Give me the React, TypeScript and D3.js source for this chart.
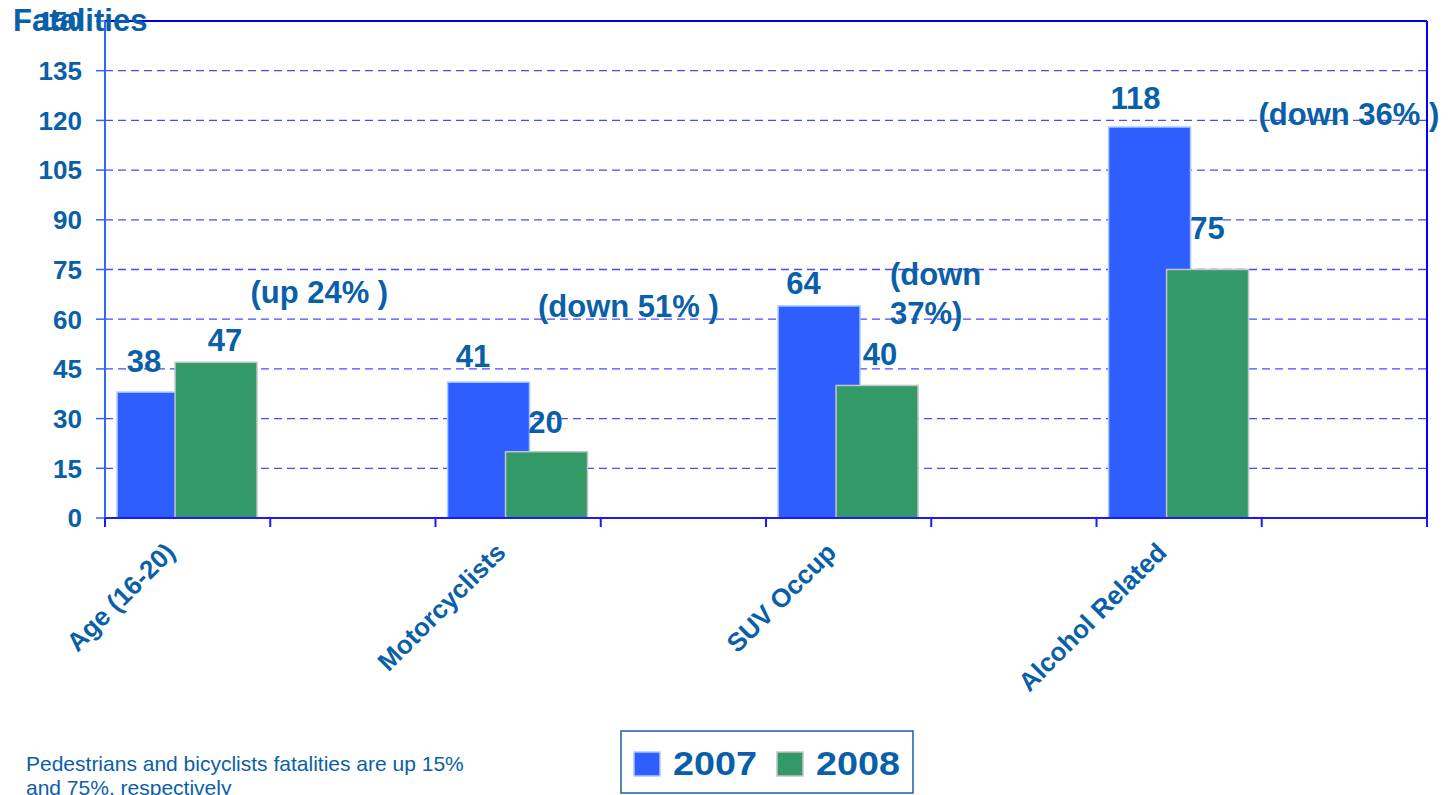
import React from "react";
import * as d3 from "d3";

// ---- data ----
const categories = ["Age (16-20)", "", "Motorcyclists", "", "SUV Occup", "", "Alcohol Related", ""];
const values2007: (number | null)[] = [38, null, 41, null, 64, null, 118, null];
const values2008: (number | null)[] = [47, null, 20, null, 40, null, 75, null];
const seriesNames = ["2007", "2008"];
const yTicks = [0, 15, 30, 45, 60, 75, 90, 105, 120, 135, 150];
// annotations: slot position (in category units), value position, lines
const annotSlot = [0.88, 2.62, 4.75, 6.98];
const annotValue = [65, 60.7, 70.3, 118.6];
const annotLines = [["(up 24% )"], ["(down 51% )"], ["(down", "37%)"], ["(down 36% )"]];
const footnote = ["Pedestrians and bicyclists fatalities are up 15%", "and 75%, respectively"];

// label nudges (px) as placed in the original
const labelDx = [
  [-14, 0, -15.5, 0, -15.5, 0, -14, 0],
  [9, 0, -1, 0, 3, 0, 0, 0],
];
const labelGap = [
  [20, 0, 15, 0, 12, 0, 18, 0],
  [11, 0, 19, 0, 20, 0, 31, 0],
];

const W = 1448;
const H = 795;
const M = { left: 105, right: 1427, top: 21, bottom: 518 };
const FONT = "'Liberation Sans', Arial, Helvetica, sans-serif";
const TXT = "#0a60a8";
const COLORS = ["#2f5eff", "#339966"];
const STROKES = ["#a9c9ff", "#c4c4c4"];

export default function App() {
  const x = d3
    .scaleBand<string>()
    .domain(categories.map((_, i) => String(i)))
    .range([M.left, M.right])
    .padding(0);
  const bw = x.bandwidth();
  const y = d3.scaleLinear().domain([0, 150]).range([M.bottom, M.top]);
  const slot = d3.scaleLinear().domain([0, categories.length]).range([M.left, M.right]);

  const barW = bw * 0.496;
  const offs = [bw * 0.073, bw * 0.424];
  const series = [values2007, values2008];

  return (
    <svg
      width={W}
      height={H}
      style={{ position: "absolute", left: 0, top: 0, overflow: "hidden", background: "#fff" }}
      fontFamily={FONT}
    >
      {/* gridlines */}
      {yTicks
        .filter((t) => t > 0 && t < 150)
        .map((t) => (
          <line
            key={"g" + t}
            x1={M.left}
            x2={M.right}
            y1={y(t)}
            y2={y(t)}
            stroke="#4a4aff"
            strokeWidth={1.3}
            strokeDasharray="8 5"
          />
        ))}
      {/* bars */}
      {series.map((vals, si) =>
        vals.map((v, i) =>
          v == null ? null : (
            <rect
              key={`b${si}-${i}`}
              x={(x(String(i)) as number) + offs[si]}
              y={y(v)}
              width={barW}
              height={y(0) - y(v)}
              fill={COLORS[si]}
              stroke={STROKES[si]}
              strokeWidth={1.5}
            />
          )
        )
      )}
      {/* plot frame: top and right */}
      <line x1={M.left} x2={M.right} y1={M.top} y2={M.top} stroke="#0000e6" strokeWidth={2} />
      <line x1={M.right} x2={M.right} y1={M.top} y2={M.bottom} stroke="#0000ff" strokeWidth={2} />
      {/* y axis */}
      <line x1={M.left} x2={M.left} y1={M.top} y2={M.bottom + 9} stroke="#3366ff" strokeWidth={2} />
      {yTicks.map((t) => (
        <g key={"yt" + t}>
          <line x1={M.left - 9} x2={M.left} y1={y(t)} y2={y(t)} stroke="#3366ff" strokeWidth={1.5} />
          <text
            x={82}
            y={y(t)}
            dy="0.36em"
            textAnchor="end"
            fontSize={26}
            fontWeight="bold"
            fill={TXT}
          >
            {t}
          </text>
        </g>
      ))}
      {/* x axis */}
      <line x1={M.left} x2={M.right} y1={M.bottom} y2={M.bottom} stroke="#1a1aff" strokeWidth={2} />
      {d3.range(categories.length + 1).map((k) => (
        <line
          key={"xt" + k}
          x1={slot(k)}
          x2={slot(k)}
          y1={M.bottom}
          y2={M.bottom + 9}
          stroke="#1a1aff"
          strokeWidth={2}
        />
      ))}
      {categories.map((c, i) =>
        c ? (
          <text
            key={"xl" + i}
            transform={`translate(${(x(String(i)) as number) + bw / 2 - 11},554) rotate(-45)`}
            textAnchor="end"
            fontSize={26}
            fontWeight="bold"
            fill={TXT}
          >
            {c}
          </text>
        ) : null
      )}
      {/* value labels */}
      {series.map((vals, si) =>
        vals.map((v, i) =>
          v == null ? null : (
            <text
              key={`l${si}-${i}`}
              x={(x(String(i)) as number) + offs[si] + barW / 2 + labelDx[si][i]}
              y={y(v) - labelGap[si][i]}
              textAnchor="middle"
              fontSize={31}
              fontWeight="bold"
              fill={TXT}
            >
              {v}
            </text>
          )
        )
      )}
      {/* annotations */}
      {annotLines.map((lines, k) => (
        <text
          key={"an" + k}
          x={slot(annotSlot[k])}
          y={y(annotValue[k])}
          fontSize={31}
          fontWeight="bold"
          fill={TXT}
        >
          {lines.map((ln, j) => (
            <tspan key={j} x={slot(annotSlot[k])} dy={j === 0 ? 0 : 39}>
              {ln}
            </tspan>
          ))}
        </text>
      ))}
      {/* title */}
      <text x={13} y={31} fontSize={31} fontWeight="bold" fill={TXT}>
        Fatalities
      </text>
      {/* legend */}
      <g>
        <rect x={621} y={731} width={292} height={62} fill="#fff" stroke="#1a5fa8" strokeWidth={1.5} />
        {seriesNames.map((s, k) => (
          <g key={"lg" + s} transform={`translate(${634 + k * 143},0)`}>
            <rect x={0} y={752} width={26} height={24} fill={COLORS[k]} stroke={STROKES[k]} strokeWidth={1.5} />
            <text
              x={39}
              y={775}
              fontSize={33}
              fontWeight="bold"
              fill={TXT}
              textLength={84}
              lengthAdjust="spacingAndGlyphs"
            >
              {s}
            </text>
          </g>
        ))}
      </g>
      {/* footnote */}
      {footnote.map((ln, j) => (
        <text key={"fn" + j} x={26} y={771 + j * 24} fontSize={21} fill={TXT}>
          {ln}
        </text>
      ))}
    </svg>
  );
}
